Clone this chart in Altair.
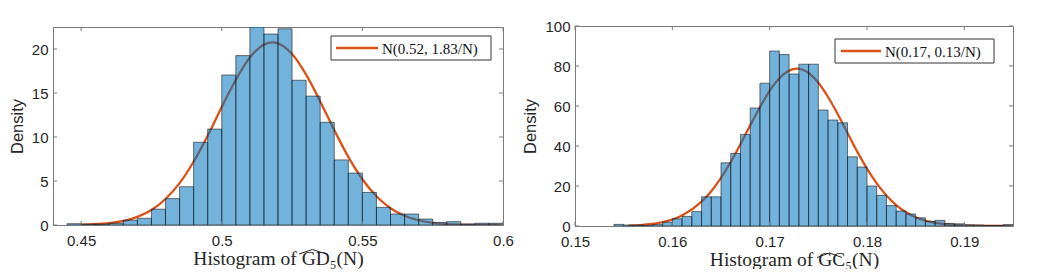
import altair as alt
import pandas as pd

# ---------------- data ----------------
gd_bin_start = 0.445
gd_bin_width = 0.005
gd_density = [0.15, 0.1, 0.1, 0.2, 0.55, 0.76, 1.8, 3.0, 4.35, 9.4, 10.9,
              17.05, 19.25, 23.0, 21.7, 22.3, 16.45, 14.65, 11.67, 7.4, 5.9,
              3.7, 2.0, 1.25, 1.25, 0.68, 0.3, 0.38, 0.12, 0.2, 0.2]
gd_curve_x = [0.45, 0.46, 0.47, 0.475, 0.48, 0.485, 0.49, 0.495, 0.5, 0.505,
              0.51, 0.515, 0.518, 0.52, 0.525, 0.53, 0.535, 0.54, 0.545, 0.55,
              0.555, 0.56, 0.565, 0.57, 0.58, 0.59, 0.6]
gd_curve_y = [0.05, 0.22, 0.92, 1.7, 2.95, 4.76, 7.19, 10.15, 13.4, 16.5,
              19.03, 20.5, 20.75, 20.64, 19.42, 17.08, 14.04, 10.79, 7.74, 5.2,
              3.26, 1.91, 1.05, 0.54, 0.11, 0.02, 0.0]
gd_xticks = [0.45, 0.5, 0.55, 0.6]
gd_yticks = [0, 5, 10, 15, 20]
gd_legend = "N(0.52, 1.83/N)"
gd_title = "Histogram of GD\u2085(N)"

gc_bin_start = 0.154
gc_bin_width = 0.001
gc_density = [0.8, 0.5, 0.5, 0.35, 0.7, 1.9, 3.6, 4.8, 7.2, 14.6, 14.6, 31.6,
              36.3, 45.8, 59.0, 71.4, 87.5, 85.7, 76.0, 80.9, 80.9, 58.0, 53.0,
              51.6, 34.6, 29.5, 20.0, 15.3, 10.2, 7.5, 6.0, 4.1, 2.3, 2.8, 1.3,
              1.1, 0.6, 0.5, 0.3, 0.3, 0.7]
gc_curve_x = [0.1555, 0.157, 0.159, 0.161, 0.163, 0.164, 0.165, 0.166, 0.167,
              0.168, 0.169, 0.17, 0.171, 0.172, 0.1728, 0.174, 0.175, 0.176,
              0.177, 0.178, 0.179, 0.18, 0.181, 0.182, 0.183, 0.184, 0.185,
              0.186, 0.188, 0.19, 0.192, 0.195]
gc_curve_y = [0.23, 0.61, 1.94, 5.25, 12.2, 17.4, 24.1, 32.0, 40.9, 50.3, 59.4,
              67.6, 73.9, 77.7, 78.7, 76.5, 71.6, 64.5, 55.9, 46.5, 37.2, 28.7,
              21.3, 15.2, 10.4, 6.86, 4.35, 2.65, 0.88, 0.25, 0.06, 0.01]
gc_xticks = [0.15, 0.16, 0.17, 0.18, 0.19]
gc_yticks = [0, 20, 40, 60, 80, 100]
gc_legend = "N(0.17, 0.13/N)"
gc_title = "Histogram of GC\u2085(N)"

ORANGE = "#D95319"
BLUE = "#0072BD"
FRAME = "#7a7a7a"
TEXT = "#262626"
SANS = "Liberation Sans"
SERIF = "Liberation Serif"


def panel(bin_start, bin_width, density, cx, cy, xdom, ydom, xticks, yticks,
          legend, title, W, H, leg, hat, top_pad):
    n = len(density)
    lo = [round(bin_start + i * bin_width, 6) for i in range(n)]
    hi = [round(bin_start + (i + 1) * bin_width, 6) for i in range(n)]
    bars = pd.DataFrame({"v": lo, "v2": hi, "d": density})
    curve = pd.DataFrame({"v": cx, "d": cy})
    xt = pd.DataFrame({"v": xticks})
    yt = pd.DataFrame({"d": yticks})

    xs = alt.Scale(domain=xdom, nice=False, zero=False, padding=0)
    ys = alt.Scale(domain=ydom, nice=False, zero=False, padding=0)
    xaxis = alt.Axis(values=xticks, format="~g", grid=False, ticks=False,
                     domain=False, labelFont=SANS, labelFontSize=15,
                     labelColor=TEXT, labelPadding=8, title=title,
                     titleFont=SERIF, titleFontSize=19.5, titleFontWeight="normal",
                     titleColor=TEXT, titlePadding=1, labelFlush=False)
    yaxis = alt.Axis(values=yticks, grid=False, ticks=False, domain=False,
                     labelFont=SANS, labelFontSize=15, labelColor=TEXT,
                     labelPadding=5, title="Density", titleFont=SANS,
                     titleFontSize=16.5, titleFontWeight="normal",
                     titleColor=TEXT, titlePadding=6)

    X = alt.X("v:Q", scale=xs, axis=xaxis)
    Y = alt.Y("d:Q", scale=ys, axis=yaxis)

    line = alt.Chart(curve).mark_line(color=ORANGE, strokeWidth=2.3,
                                      interpolate="monotone", clip=True).encode(x=X, y=Y)
    hist = alt.Chart(bars).mark_rect(fill=BLUE, fillOpacity=0.55, stroke="#111111",
                                     strokeWidth=0.7, strokeOpacity=0.8,
                                     clip=True).encode(
        x=X, x2="v2:Q", y=Y, y2=alt.datum(0))
    tl = 4
    tb = alt.Chart(xt).mark_rule(color=FRAME, strokeWidth=1).encode(
        x=X, y=alt.value(H), y2=alt.value(H - tl))
    tt = alt.Chart(xt).mark_rule(color=FRAME, strokeWidth=1).encode(
        x=X, y=alt.value(0), y2=alt.value(tl))
    tlft = alt.Chart(yt).mark_rule(color=FRAME, strokeWidth=1).encode(
        y=Y, x=alt.value(0), x2=alt.value(tl))
    trgt = alt.Chart(yt).mark_rule(color=FRAME, strokeWidth=1).encode(
        y=Y, x=alt.value(W), x2=alt.value(W - tl))

    one = pd.DataFrame({"a": [1]})
    bx0, bx1, by0, by1, lx0, lx1, ly, tx = leg
    box = alt.Chart(one).mark_rect(fill="white", stroke="#333333",
                                   strokeWidth=1).encode(
        x=alt.value(bx0), x2=alt.value(bx1), y=alt.value(by0), y2=alt.value(by1))
    lline = alt.Chart(one).mark_rule(color=ORANGE, strokeWidth=2.3).encode(
        x=alt.value(lx0), x2=alt.value(lx1), y=alt.value(ly))
    ltext = alt.Chart(one).mark_text(text=legend, font=SERIF, fontSize=15,
                                     align="left", baseline="middle",
                                     color="#111111").encode(
        x=alt.value(tx), y=alt.value(ly + 1))
    # wide hat over the estimator symbol in the axis title
    hx0, hx1, hy_apex, hy_base = hat
    hm = (hx0 + hx1) / 2
    hat_l = alt.Chart(one).mark_rule(color=TEXT, strokeWidth=1).encode(
        x=alt.value(hx0), x2=alt.value(hm), y=alt.value(hy_base), y2=alt.value(hy_apex))
    hat_r = alt.Chart(one).mark_rule(color=TEXT, strokeWidth=1).encode(
        x=alt.value(hm), x2=alt.value(hx1), y=alt.value(hy_apex), y2=alt.value(hy_base))
    layers = [line, hist, tb, tt, tlft, trgt, box, lline, ltext, hat_l, hat_r]
    if top_pad:
        spacer = alt.Chart(one).mark_text(text="x", fontSize=top_pad, opacity=0,
                                          baseline="bottom").encode(
            x=alt.value(10), y=alt.value(0))
        layers.append(spacer)
    return alt.layer(*layers).properties(width=W, height=H)


left = panel(gd_bin_start, gd_bin_width, gd_density, gd_curve_x, gd_curve_y,
             [0.44, 0.6], [0, 22.5], gd_xticks, gd_yticks, gd_legend, gd_title,
             450, 198, (278, 438, 9, 33, 283, 325, 21, 329),
             (246, 273, 222.5, 227), 17)
right = panel(gc_bin_start, gc_bin_width, gc_density, gc_curve_x, gc_curve_y,
              [0.15, 0.195], [0, 100], gc_xticks, gc_yticks, gc_legend, gc_title,
              438, 200, (260, 419, 13, 37, 266, 306, 25, 310),
              (242, 267, 227, 231.5), 0)

chart = alt.hconcat(left, right, spacing=8, center=True).properties(
    padding={"left": 0, "top": 0, "right": 0, "bottom": 0}
).configure_view(stroke=FRAME, strokeWidth=1)

chart.save("out.html", embed_options={"renderer": "svg", "actions": False})
